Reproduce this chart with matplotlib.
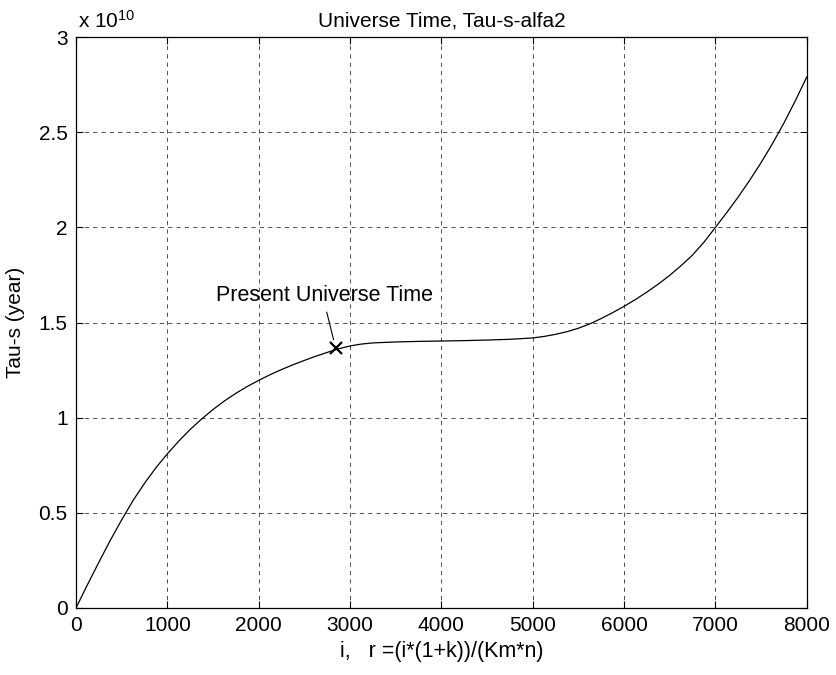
import matplotlib
matplotlib.use('Agg')
import matplotlib.pyplot as plt

plt.rcParams['font.family'] = ['Liberation Sans', 'DejaVu Sans']
plt.rcParams['mathtext.fontset'] = 'custom'
plt.rcParams['mathtext.rm'] = 'Liberation Sans'
plt.rcParams['mathtext.it'] = 'Liberation Sans:italic'

# r values and Tau-s (in units of 1e10 years)
r_vals = [0, 125, 250, 375, 500, 625, 750, 875, 1000, 1125, 1250, 1375,
          1500, 1625, 1750, 1875, 2000, 2125, 2250, 2375, 2500, 2625,
          2750, 2875, 3000, 3125, 3250, 3500, 3750, 4000, 4250, 4500,
          4750, 5000, 5125, 5250, 5375, 5500, 5625, 5750, 5875, 6000,
          6125, 6250, 6375, 6500, 6625, 6750, 6875, 7000, 7125, 7250,
          7375, 7500, 7625, 7750, 7875, 8000]
tau_vals = [0, 0.122, 0.24, 0.355, 0.463, 0.565, 0.655, 0.737, 0.81,
            0.877, 0.938, 0.993, 1.043, 1.088, 1.128, 1.164, 1.196, 1.226,
            1.253, 1.278, 1.301, 1.323, 1.343, 1.362, 1.377, 1.387, 1.393,
            1.398, 1.401, 1.403, 1.405, 1.408, 1.412, 1.419, 1.427, 1.438,
            1.452, 1.47, 1.493, 1.521, 1.552, 1.585, 1.621, 1.66, 1.702,
            1.748, 1.799, 1.855, 1.922, 2.0, 2.078, 2.16, 2.247, 2.34,
            2.44, 2.548, 2.665, 2.79]
present_r = 2850
present_tau = 1.366

xticks = [0, 1000, 2000, 3000, 4000, 5000, 6000, 7000, 8000]
yticks = [0, 0.5, 1, 1.5, 2, 2.5, 3]
ytick_labels = ['0', '0.5', '1', '1.5', '2', '2.5', '3']

fig = plt.figure(figsize=(8.37, 6.75), dpi=100)
ax = fig.add_axes([0.0908, 0.0993, 0.873, 0.8457])

ax.plot(r_vals, tau_vals, color='black', lw=0.9)
ax.plot([present_r], [present_tau], marker='x', color='black', ms=8, mew=1.6)

# label with a plain leader line down to the marker
ax.text(1530, 1.64, 'Present Universe Time', fontsize=15.5, va='center', ha='left')
ax.annotate('', xy=(2820, 1.41), xytext=(2745, 1.555),
            arrowprops=dict(arrowstyle='-', color='black', lw=0.8,
                            shrinkA=0, shrinkB=0))

ax.set_xlim(0, 8000)
ax.set_ylim(0, 3)
ax.set_xticks(xticks)
ax.set_yticks(yticks)
ax.set_yticklabels(ytick_labels)
ax.tick_params(direction='in', length=5, width=0.8, labelsize=15,
               top=True, right=True, pad=6)
ax.grid(True, color='black', ls=(0, (5, 5)), lw=0.6, alpha=0.8)
for s in ax.spines.values():
    s.set_linewidth(0.9)

ax.set_title('Universe Time, Tau-s-alfa2', fontsize=15, pad=8)
ax.set_xlabel('i,   r =(i*(1+k))/(Km*n)', fontsize=15.5, labelpad=4)
ax.set_ylabel('Tau-s (year)', fontsize=15, labelpad=10)
ax.text(0.003, 1.01, r'x 10$^{\mathit{10}}$', transform=ax.transAxes,
        fontsize=15, ha='left', va='bottom')

fig.savefig('out.png', dpi=100)
